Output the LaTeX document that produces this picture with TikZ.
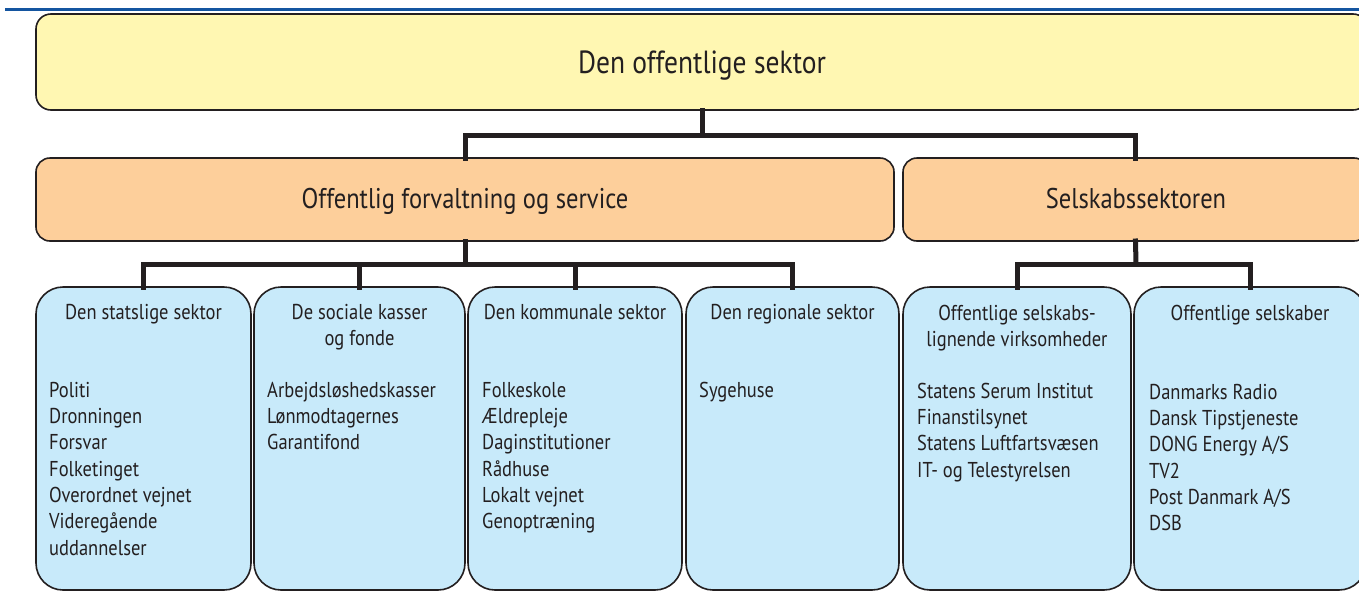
\documentclass[tikz,border=0pt]{standalone}
\usepackage{fontspec}
\setmainfont{PT Sans}[FakeStretch=0.86]
\definecolor{yel}{RGB}{255,247,178}
\definecolor{ora}{RGB}{253,207,155}
\definecolor{blu}{RGB}{200,234,250}
\definecolor{ink}{RGB}{35,31,32}
\definecolor{rulecol}{RGB}{20,85,160}
\newcommand{\topstrut}{\rule{0pt}{16pt}}
\tikzset{
  boxbase/.style={draw=ink, line width=1.6pt, inner sep=0pt, outer sep=0pt, anchor=north west},
  topbox/.style={boxbase, fill=yel, rounded corners=15pt},
  midbox/.style={boxbase, fill=ora, rounded corners=14pt},
  leafbox/.style={boxbase, fill=blu, rounded corners=27pt, minimum height=303pt},
  bigtext/.style={inner sep=0pt, anchor=base, text=ink, font=\fontsize{28.5}{34}\selectfont},
  headtext/.style={inner sep=0pt, anchor=north, align=center, text=ink, font=\fontsize{21.5}{26.3}\selectfont},
  itemtext/.style={inner sep=0pt, anchor=north west, align=left, text=ink, font=\fontsize{21.5}{26.3}\selectfont},
  conn/.style={draw=ink, line width=5pt, line cap=rect, line join=miter},
}
\begin{document}
\begin{tikzpicture}[x=1pt,y=-1pt]
\useasboundingbox (0,0) rectangle (1359,603);
\clip (0,0) rectangle (1359,603);
% top rule
\draw[rulecol, line width=3pt] (5,9) -- (1365,9);
% level 1
\node[topbox, minimum width=1332pt, minimum height=96pt] (top) at (36,14) {};
\node[bigtext, font=\fontsize{32}{38}\selectfont] (toptxt) at (702,73) {Den offentlige sektor};
% level 2
\node[midbox, minimum width=858pt, minimum height=83pt] (o1) at (36,158) {};
\node[bigtext] (o1txt) at (465,208) {Offentlig forvaltning og service};
\node[midbox, minimum width=465pt, minimum height=83pt] (o2) at (903,158) {};
\node[bigtext] (o2txt) at (1136,208) {Selskabssektoren};
% level 3
\node[leafbox, minimum width=215pt] (b1) at (36,287) {};
\node[leafbox, minimum width=211pt] (b2) at (254,287) {};
\node[leafbox, minimum width=214pt] (b3) at (468,287) {};
\node[leafbox, minimum width=213pt] (b4) at (686,287) {};
\node[leafbox, minimum width=228pt] (b5) at (903,287) {};
\node[leafbox, minimum width=232pt] (b6) at (1134,287) {};
% headings
\node[headtext] (h1) at ([yshift=-16pt]b1.north) {\topstrut Den statslige sektor};
\node[headtext] (h2) at ([yshift=-16pt]b2.north) {\topstrut De sociale kasser\\og fonde};
\node[headtext] (h3) at ([yshift=-16pt]b3.north) {\topstrut Den kommunale sektor};
\node[headtext] (h4) at ([yshift=-16pt]b4.north) {\topstrut Den regionale sektor};
\node[headtext] (h5) at ([yshift=-17pt]b5.north) {\topstrut Offentlige selskabs-\\lignende virksomheder};
\node[headtext] (h6) at ([yshift=-17pt]b6.north) {\topstrut Offentlige selskaber};
% items
\node[itemtext] (i1) at ([xshift=13pt,yshift=-94pt]b1.north west) {\topstrut Politi\\Dronningen\\Forsvar\\Folketinget\\Overordnet vejnet\\Videregående\\uddannelser};
\node[itemtext] (i2) at ([xshift=13pt,yshift=-94pt]b2.north west) {\topstrut Arbejdsløshedskasser\\Lønmodtagernes\\Garantifond};
\node[itemtext] (i3) at ([xshift=14pt,yshift=-94pt]b3.north west) {\topstrut Folkeskole\\Ældrepleje\\Daginstitutioner\\Rådhuse\\Lokalt vejnet\\Genoptræning};
\node[itemtext] (i4) at ([xshift=13pt,yshift=-94pt]b4.north west) {\topstrut Sygehuse};
\node[itemtext] (i5) at ([xshift=14pt,yshift=-95pt]b5.north west) {\topstrut Statens Serum Institut\\Finanstilsynet\\Statens Luftfartsvæsen\\IT- og Telestyrelsen};
\node[itemtext] (i6) at ([xshift=15pt,yshift=-96pt]b6.north west) {\topstrut Danmarks Radio\\Dansk Tipstjeneste\\DONG Energy A/S\\TV2\\Post Danmark A/S\\DSB};
% connectors
\coordinate (j1) at (702,135);
\coordinate (j2) at (465,264);
\coordinate (j3) at (1136,264);
\draw[conn] (top.south) -- (j1);
\draw[conn] (o1.north) |- (j1) -| (o2.north);
\draw[conn] (o1.south) -- (j2);
\draw[conn] (b1.north) |- (j2) -| (b4.north);
\draw[conn] (b2.north) -- (b2.north |- j2);
\draw[conn] (b3.north) -- (b3.north |- j2);
\draw[conn] (o2.south) -- (j3);
\draw[conn] (b5.north) |- (j3) -| (b6.north);
\end{tikzpicture}
\end{document}
